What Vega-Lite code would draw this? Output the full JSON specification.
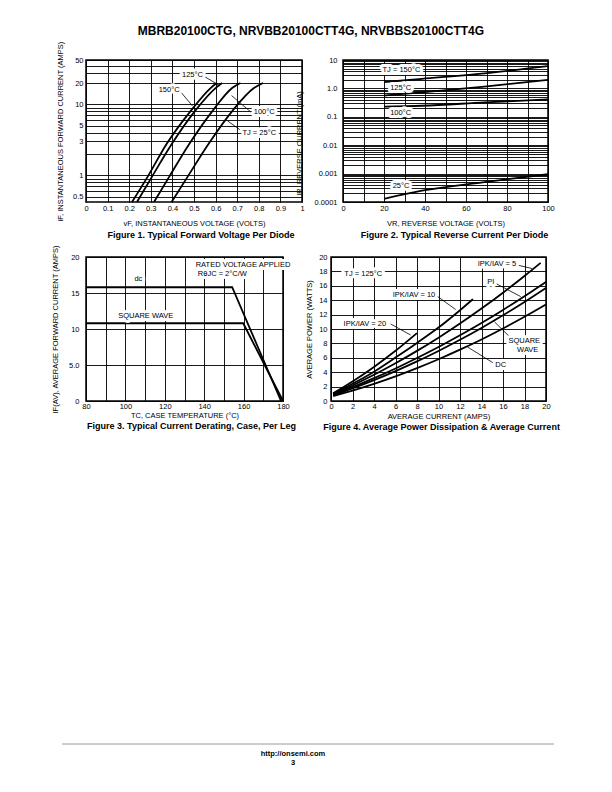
{
  "$schema": "https://vega.github.io/schema/vega-lite/v6.json",
  "padding": {"left": 50, "top": 25, "right": 5, "bottom": 5},
  "title": {"text": "MBRB20100CTG, NRVBB20100CTT4G, NRVBBS20100CTT4G", "font": "Liberation Sans", "fontSize": 12, "fontWeight": "bold", "color": "black", "anchor": "middle", "offset": 2, "dx": 5},
  "spacing": 310,
  "vconcat": [
    {
      "spacing": 3,
      "vconcat": [
        {
          "spacing": 41,
          "bounds": "flush",
          "hconcat": [
            {
              "width": 216, "height": 142,
              "title": {"text": "Figure 1. Typical Forward Voltage Per Diode", "orient": "bottom", "anchor": "middle", "font": "Liberation Sans", "fontSize": 9, "fontWeight": "bold", "color": "black", "offset": 4, "dx": 7},
              "layer": [
                {
                  "data": {"name": "fig1"},
                  "mark": {"type": "line", "color": "black", "strokeWidth": 1.8, "interpolate": "monotone"},
                  "encoding": {
                    "x": {"field": "v", "type": "quantitative", "scale": {"domain": [0, 1], "nice": false},
                      "axis": {"title": "vF, INSTANTANEOUS VOLTAGE (VOLTS)", "values": [0, 0.1, 0.2, 0.3, 0.4, 0.5, 0.6, 0.7, 0.8, 0.9, 1], "tickCount": 200, "format": "~g", "labelPadding": 2, "titlePadding": 8}},
                    "y": {"field": "i", "type": "quantitative", "scale": {"type": "log", "domain": [0.42, 20, 50], "range": [142, 23, 0], "nice": false},
                      "axis": {"title": "iF, INSTANTANEOUS FORWARD CURRENT (AMPS)", "values": [0.5, 0.6, 0.7, 0.8, 0.9, 1, 2, 3, 4, 5, 6, 7, 8, 9, 10, 20, 30, 40, 50], "tickCount": 200,
                        "labelExpr": "indexof([0.5, 1, 3, 5, 10, 20, 50], datum.value) >= 0 ? format(datum.value, '~g') : ''", "labelPadding": 3, "titlePadding": 8}},
                    "detail": {"field": "curve"}
                  }
                },
                {
                  "data": {"name": "fig1lead"},
                  "mark": {"type": "rule", "color": "black", "strokeWidth": 0.8},
                  "encoding": {
                    "x": {"field": "v", "type": "quantitative"}, "y": {"field": "i", "type": "quantitative"},
                    "x2": {"field": "v2"}, "y2": {"field": "i2"}
                  }
                },
                {
                  "data": {"name": "fig1lab"},
                  "mark": {"type": "text", "fill": "white", "stroke": "white", "strokeWidth": 6, "strokeJoin": "round", "fontSize": 7.5},
                  "encoding": {"x": {"field": "v", "type": "quantitative"}, "y": {"field": "i", "type": "quantitative"}, "text": {"field": "label"}}
                },
                {
                  "data": {"name": "fig1lab"},
                  "mark": {"type": "text", "color": "black", "fontSize": 7.5},
                  "encoding": {"x": {"field": "v", "type": "quantitative"}, "y": {"field": "i", "type": "quantitative"}, "text": {"field": "label"}}
                }
              ]
            },
            {
              "width": 205, "height": 142,
              "title": {"text": "Figure 2. Typical Reverse Current Per Diode", "orient": "bottom", "anchor": "middle", "font": "Liberation Sans", "fontSize": 9, "fontWeight": "bold", "color": "black", "offset": 4, "dx": 9},
              "layer": [
                {
                  "data": {"name": "fig2"},
                  "mark": {"type": "line", "color": "black", "strokeWidth": 1.8, "interpolate": "monotone"},
                  "encoding": {
                    "x": {"field": "vr", "type": "quantitative", "scale": {"domain": [0, 100], "nice": false},
                      "axis": {"title": "VR, REVERSE VOLTAGE (VOLTS)", "values": [0, 10, 20, 30, 40, 50, 60, 70, 80, 90, 100], "tickCount": 200, "format": "~g", "labelExpr": "datum.value % 20 == 0 ? datum.label : ''", "labelPadding": 2, "titlePadding": 8}},
                    "y": {"field": "ir", "type": "quantitative", "scale": {"type": "log", "domain": [0.0001, 10], "nice": false},
                      "axis": {"title": "IR, REVERSE CURRENT (mA)", "titleY": 83, "tickCount": 200,
                        "values": [0.0001, 0.0002, 0.0003, 0.0004, 0.0005, 0.0006, 0.0007, 0.0008, 0.0009, 0.001, 0.002, 0.003, 0.004, 0.005, 0.006, 0.007, 0.008, 0.009, 0.01, 0.02, 0.03, 0.04, 0.05, 0.06, 0.07, 0.08, 0.09, 0.1, 0.2, 0.3, 0.4, 0.5, 0.6, 0.7, 0.8, 0.9, 1, 2, 3, 4, 5, 6, 7, 8, 9, 10],
                        "labelExpr": "indexof([0.0001, 0.001, 0.01, 0.1, 10], datum.value) >= 0 ? format(datum.value, '~g') : (datum.value == 1 ? '1.0' : '')", "labelPadding": 6, "titlePadding": 11}},
                    "detail": {"field": "curve"}
                  }
                },
                {
                  "data": {"name": "fig2lab"},
                  "mark": {"type": "text", "fill": "white", "stroke": "white", "strokeWidth": 6, "strokeJoin": "round", "fontSize": 7.5},
                  "encoding": {"x": {"field": "vr", "type": "quantitative"}, "y": {"field": "ir", "type": "quantitative"}, "text": {"field": "label"}}
                },
                {
                  "data": {"name": "fig2lab"},
                  "mark": {"type": "text", "color": "black", "fontSize": 7.5},
                  "encoding": {"x": {"field": "vr", "type": "quantitative"}, "y": {"field": "ir", "type": "quantitative"}, "text": {"field": "label"}}
                }
              ]
            }
          ]
        },
        {
          "spacing": 48,
          "bounds": "flush",
          "hconcat": [
            {
              "width": 197, "height": 144,
              "title": {"text": "Figure 3. Typical Current Derating, Case, Per Leg", "orient": "bottom", "anchor": "middle", "font": "Liberation Sans", "fontSize": 9, "fontWeight": "bold", "color": "black", "offset": 3, "dx": 7},
              "layer": [
                {
                  "data": {"name": "fig3"},
                  "mark": {"type": "line", "color": "black", "strokeWidth": 1.8},
                  "encoding": {
                    "x": {"field": "tc", "type": "quantitative", "scale": {"domain": [80, 180], "nice": false},
                      "axis": {"title": "TC, CASE TEMPERATURE (°C)", "values": [80, 90, 100, 110, 120, 130, 140, 150, 160, 170, 180], "tickCount": 200, "format": "~g", "labelExpr": "datum.value % 20 == 0 ? datum.label : ''", "labelPadding": 1, "titlePadding": 2}},
                    "y": {"field": "ifav", "type": "quantitative", "scale": {"domain": [0, 20], "nice": false},
                      "axis": {"title": "IF(AV), AVERAGE FORWARD CURRENT (AMPS)", "values": [0, 5, 10, 15, 20], "tickCount": 200, "format": "~g", "labelExpr": "datum.value == 5 ? '5.0' : datum.label", "labelPadding": 7, "titlePadding": 9}},
                    "detail": {"field": "curve"}
                  }
                },
                {
                  "data": {"name": "fig3lab"},
                  "mark": {"type": "text", "fill": "white", "stroke": "white", "strokeWidth": 6, "strokeJoin": "round", "fontSize": 7.5},
                  "encoding": {"x": {"field": "tc", "type": "quantitative"}, "y": {"field": "ifav", "type": "quantitative"}, "text": {"field": "label"}}
                },
                {
                  "data": {"name": "fig3lab"},
                  "mark": {"type": "text", "color": "black", "fontSize": 7.5},
                  "encoding": {"x": {"field": "tc", "type": "quantitative"}, "y": {"field": "ifav", "type": "quantitative"}, "text": {"field": "label"}}
                }
              ]
            },
            {
              "width": 215, "height": 144,
              "title": {"text": "Figure 4. Average Power Dissipation & Average Current", "orient": "bottom", "anchor": "middle", "font": "Liberation Sans", "fontSize": 9, "fontWeight": "bold", "color": "black", "offset": 3, "dx": 3},
              "layer": [
                {
                  "data": {"name": "fig4"},
                  "mark": {"type": "line", "color": "black", "strokeWidth": 1.8, "interpolate": "monotone"},
                  "encoding": {
                    "x": {"field": "iav", "type": "quantitative", "scale": {"domain": [0, 20], "nice": false},
                      "axis": {"title": "AVERAGE CURRENT (AMPS)", "values": [0, 2, 4, 6, 8, 10, 12, 14, 16, 18, 20], "tickCount": 200, "format": "~g", "labelPadding": 1.5, "titlePadding": 2}},
                    "y": {"field": "p", "type": "quantitative", "scale": {"domain": [0, 20], "nice": false},
                      "axis": {"title": "AVERAGE POWER (WATTS)", "values": [0, 2, 4, 6, 8, 10, 12, 14, 16, 18, 20], "tickCount": 200, "format": "~g", "labelPadding": 4, "titlePadding": 5}},
                    "detail": {"field": "curve"}
                  }
                },
                {
                  "data": {"name": "fig4lead"},
                  "mark": {"type": "rule", "color": "black", "strokeWidth": 0.8},
                  "encoding": {
                    "x": {"field": "iav", "type": "quantitative"}, "y": {"field": "p", "type": "quantitative"},
                    "x2": {"field": "iav2"}, "y2": {"field": "p2"}
                  }
                },
                {
                  "data": {"name": "fig4lab"},
                  "mark": {"type": "text", "fill": "white", "stroke": "white", "strokeWidth": 6, "strokeJoin": "round", "fontSize": 7.5},
                  "encoding": {"x": {"field": "iav", "type": "quantitative"}, "y": {"field": "p", "type": "quantitative"}, "text": {"field": "label"}}
                },
                {
                  "data": {"name": "fig4lab"},
                  "mark": {"type": "text", "color": "black", "fontSize": 7.5},
                  "encoding": {"x": {"field": "iav", "type": "quantitative"}, "y": {"field": "p", "type": "quantitative"}, "text": {"field": "label"}}
                }
              ]
            }
          ]
        }
      ]
    },
    {
      "width": 468, "height": 19,
      "view": {"stroke": null},
      "layer": [
        {
          "data": {"values": [{}]},
          "mark": {"type": "rule", "color": "#9a9a9a", "strokeWidth": 1},
          "encoding": {
            "x": {"datum": 0, "type": "quantitative", "scale": {"domain": [0, 1], "range": [-24, 468]}, "axis": null},
            "x2": {"datum": 1},
            "y": {"datum": 0, "type": "quantitative", "scale": {"domain": [0, 2], "reverse": true}, "axis": null}
          }
        },
        {
          "data": {"name": "footer"},
          "mark": {"type": "text", "color": "black", "fontSize": 7.5, "fontWeight": "bold", "dx": -27},
          "encoding": {
            "y": {"field": "row", "type": "quantitative", "axis": null},
            "text": {"field": "line"}
          }
        }
      ]
    }
  ],
  "datasets": {
    "fig1": [
      {"curve": "150", "v": 0.213, "i": 0.42}, {"curve": "150", "v": 0.285, "i": 0.95}, {"curve": "150", "v": 0.373, "i": 2.76}, {"curve": "150", "v": 0.485, "i": 8.1}, {"curve": "150", "v": 0.578, "i": 17.1}, {"curve": "150", "v": 0.605, "i": 20},
      {"curve": "125", "v": 0.236, "i": 0.42}, {"curve": "125", "v": 0.305, "i": 0.95}, {"curve": "125", "v": 0.397, "i": 2.76}, {"curve": "125", "v": 0.505, "i": 8.1}, {"curve": "125", "v": 0.601, "i": 17.1}, {"curve": "125", "v": 0.63, "i": 20},
      {"curve": "100", "v": 0.315, "i": 0.42}, {"curve": "100", "v": 0.385, "i": 0.95}, {"curve": "100", "v": 0.478, "i": 2.76}, {"curve": "100", "v": 0.586, "i": 8.1}, {"curve": "100", "v": 0.678, "i": 17.1}, {"curve": "100", "v": 0.715, "i": 20},
      {"curve": "25", "v": 0.396, "i": 0.42}, {"curve": "25", "v": 0.47, "i": 0.95}, {"curve": "25", "v": 0.567, "i": 2.76}, {"curve": "25", "v": 0.678, "i": 8.1}, {"curve": "25", "v": 0.779, "i": 17.1}, {"curve": "25", "v": 0.82, "i": 20}
    ],
    "fig1lead": [
      {"v": 0.547, "i": 26.2, "v2": 0.621, "i2": 18.1},
      {"v": 0.439, "i": 14.9, "v2": 0.493, "i2": 9.5},
      {"v": 0.763, "i": 7.8, "v2": 0.674, "i2": 13.3},
      {"v": 0.725, "i": 4.12, "v2": 0.655, "i2": 5.86}
    ],
    "fig1lab": [
      {"label": "125°C", "v": 0.493, "i": 27.2},
      {"label": "150°C", "v": 0.385, "i": 15.7},
      {"label": "100°C", "v": 0.825, "i": 7.7},
      {"label": "TJ = 25°C", "v": 0.802, "i": 3.9}
    ],
    "fig2": [
      {"curve": "150", "vr": 20, "ir": 1.66}, {"curve": "150", "vr": 38.5, "ir": 2.17}, {"curve": "150", "vr": 69, "ir": 3.4}, {"curve": "150", "vr": 100, "ir": 6.1},
      {"curve": "125", "vr": 20, "ir": 0.56}, {"curve": "125", "vr": 38.5, "ir": 0.72}, {"curve": "125", "vr": 69, "ir": 1.15}, {"curve": "125", "vr": 100, "ir": 2.0},
      {"curve": "100", "vr": 20, "ir": 0.227}, {"curve": "100", "vr": 38.5, "ir": 0.245}, {"curve": "100", "vr": 69, "ir": 0.32}, {"curve": "100", "vr": 100, "ir": 0.41},
      {"curve": "25", "vr": 20, "ir": 0.00013}, {"curve": "25", "vr": 38.5, "ir": 0.00025}, {"curve": "25", "vr": 69, "ir": 0.0005}, {"curve": "25", "vr": 100, "ir": 0.00095}
    ],
    "fig2lab": [
      {"label": "TJ = 150°C", "vr": 28.5, "ir": 4.6},
      {"label": "125°C", "vr": 28.1, "ir": 1.05},
      {"label": "100°C", "vr": 28.1, "ir": 0.14},
      {"label": "25°C", "vr": 28.3, "ir": 0.00038}
    ],
    "fig3": [
      {"curve": "dc", "tc": 80, "ifav": 15.8}, {"curve": "dc", "tc": 154.2, "ifav": 15.8}, {"curve": "dc", "tc": 179, "ifav": 0},
      {"curve": "square", "tc": 80, "ifav": 10.8}, {"curve": "square", "tc": 159.8, "ifav": 10.8}, {"curve": "square", "tc": 180, "ifav": 0}
    ],
    "fig3lab": [
      {"label": "dc", "tc": 106.6, "ifav": 16.9},
      {"label": "SQUARE WAVE", "tc": 110.3, "ifav": 11.85},
      {"label": "RATED VOLTAGE APPLIED", "tc": 159.7, "ifav": 18.9},
      {"label": "RθJC = 2°C/W", "tc": 149.2, "ifav": 17.7}
    ],
    "fig4": [
      {"curve": "DC", "iav": 0.2, "p": 0.68}, {"curve": "DC", "iav": 2, "p": 1.45}, {"curve": "DC", "iav": 4, "p": 2.39}, {"curve": "DC", "iav": 6, "p": 3.43}, {"curve": "DC", "iav": 8, "p": 4.57}, {"curve": "DC", "iav": 10, "p": 5.8}, {"curve": "DC", "iav": 12, "p": 7.13}, {"curve": "DC", "iav": 14, "p": 8.55}, {"curve": "DC", "iav": 16, "p": 10.07}, {"curve": "DC", "iav": 18, "p": 11.69}, {"curve": "DC", "iav": 20, "p": 13.4},
      {"curve": "SQ", "iav": 0.2, "p": 0.8}, {"curve": "SQ", "iav": 2, "p": 1.75}, {"curve": "SQ", "iav": 4, "p": 2.9}, {"curve": "SQ", "iav": 6, "p": 4.15}, {"curve": "SQ", "iav": 8, "p": 5.5}, {"curve": "SQ", "iav": 10, "p": 6.95}, {"curve": "SQ", "iav": 12, "p": 8.5}, {"curve": "SQ", "iav": 14, "p": 10.15}, {"curve": "SQ", "iav": 16, "p": 11.9}, {"curve": "SQ", "iav": 18, "p": 13.75}, {"curve": "SQ", "iav": 20, "p": 15.7},
      {"curve": "PI", "iav": 0.2, "p": 0.86}, {"curve": "PI", "iav": 2, "p": 1.92}, {"curve": "PI", "iav": 4, "p": 3.17}, {"curve": "PI", "iav": 6, "p": 4.52}, {"curve": "PI", "iav": 8, "p": 5.97}, {"curve": "PI", "iav": 10, "p": 7.5}, {"curve": "PI", "iav": 12, "p": 9.13}, {"curve": "PI", "iav": 14, "p": 10.84}, {"curve": "PI", "iav": 16, "p": 12.65}, {"curve": "PI", "iav": 18, "p": 14.56}, {"curve": "PI", "iav": 20, "p": 16.55},
      {"curve": "IPK5", "iav": 0.2, "p": 0.93}, {"curve": "IPK5", "iav": 2, "p": 2.16}, {"curve": "IPK5", "iav": 4, "p": 3.64}, {"curve": "IPK5", "iav": 6, "p": 5.24}, {"curve": "IPK5", "iav": 8, "p": 6.96}, {"curve": "IPK5", "iav": 10, "p": 8.8}, {"curve": "IPK5", "iav": 12, "p": 10.76}, {"curve": "IPK5", "iav": 14, "p": 12.84}, {"curve": "IPK5", "iav": 16, "p": 15.04}, {"curve": "IPK5", "iav": 18, "p": 17.36}, {"curve": "IPK5", "iav": 19.5, "p": 19.18},
      {"curve": "IPK10", "iav": 0.2, "p": 1.04}, {"curve": "IPK10", "iav": 2, "p": 2.39}, {"curve": "IPK10", "iav": 4, "p": 4.07}, {"curve": "IPK10", "iav": 6, "p": 6.03}, {"curve": "IPK10", "iav": 8, "p": 8.07}, {"curve": "IPK10", "iav": 10, "p": 10.2}, {"curve": "IPK10", "iav": 12, "p": 12.61}, {"curve": "IPK10", "iav": 13.2, "p": 14.15},
      {"curve": "IPK20", "iav": 0.2, "p": 1.07}, {"curve": "IPK20", "iav": 2, "p": 2.71}, {"curve": "IPK20", "iav": 4, "p": 4.73}, {"curve": "IPK20", "iav": 6, "p": 6.97}, {"curve": "IPK20", "iav": 8, "p": 9.43}
    ],
    "fig4lead": [
      {"iav": 17.0, "p": 19.0, "iav2": 18.7, "p2": 18.4},
      {"iav": 15.3, "p": 16.35, "iav2": 17.65, "p2": 14.5},
      {"iav": 9.74, "p": 14.7, "iav2": 11.6, "p2": 12.7},
      {"iav": 5.55, "p": 10.7, "iav2": 7.4, "p2": 9.17},
      {"iav": 16.9, "p": 8.5, "iav2": 15.2, "p2": 11.0},
      {"iav": 15.3, "p": 5.1, "iav2": 12.7, "p2": 7.5}
    ],
    "fig4lab": [
      {"label": "TJ = 125°C", "iav": 3.0, "p": 17.6},
      {"label": "IPK/IAV = 5", "iav": 15.44, "p": 19.03},
      {"label": "PI", "iav": 14.86, "p": 16.57},
      {"label": "IPK/IAV = 10", "iav": 7.72, "p": 14.72},
      {"label": "IPK/IAV = 20", "iav": 3.15, "p": 10.69},
      {"label": "SQUARE", "iav": 17.98, "p": 8.38},
      {"label": "WAVE", "iav": 18.3, "p": 7.08},
      {"label": "DC", "iav": 15.79, "p": 5.0}
    ],
    "footer": [
      {"row": 1, "line": "http://onsemi.com"},
      {"row": 2, "line": "3"}
    ]
  },
  "config": {
    "font": "Liberation Sans Narrow, Arial Narrow, Liberation Sans, sans-serif",
    "view": {"stroke": "black", "strokeWidth": 1.5},
    "axis": {
      "domain": false, "ticks": false, "tickSize": 0,
      "grid": true, "gridColor": "black", "gridOpacity": 1, "gridWidth": 0.9,
      "labelFontSize": 7.5, "labelColor": "black", "labelOverlap": false, "labelFlush": false,
      "titleFontSize": 7.5, "titleFontWeight": "normal", "titleColor": "black"
    }
  }
}
